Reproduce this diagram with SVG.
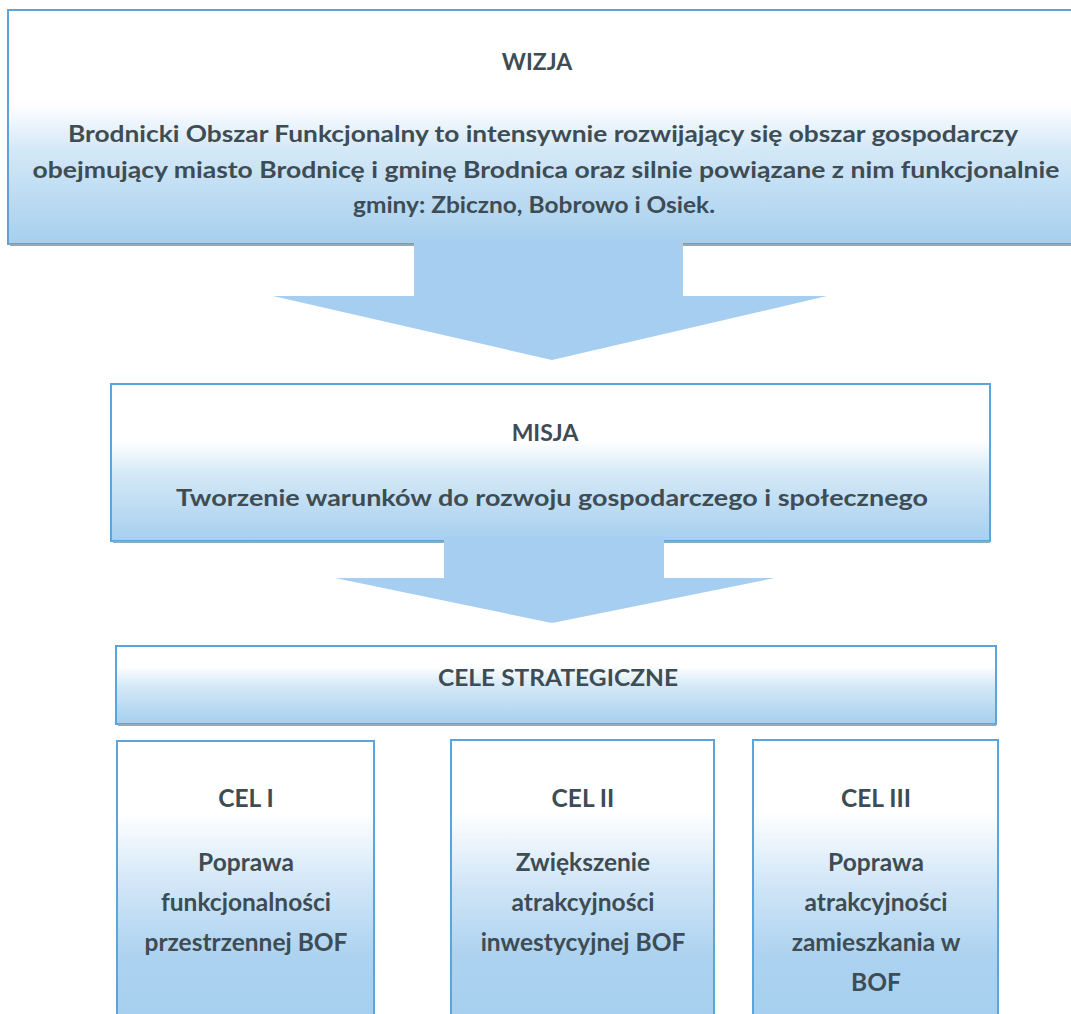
<svg xmlns="http://www.w3.org/2000/svg" width="1071" height="1014" viewBox="0 0 1071 1014">
  <defs>
    <linearGradient id="gWizja" x1="0" y1="0" x2="0" y2="1">
      <stop offset="0" stop-color="#ffffff"/>
      <stop offset="0.4" stop-color="#ffffff"/>
      <stop offset="0.6" stop-color="#d3e8f7"/>
      <stop offset="1" stop-color="#a6cfee"/>
    </linearGradient>
    <linearGradient id="gMisja" x1="0" y1="0" x2="0" y2="1">
      <stop offset="0" stop-color="#ffffff"/>
      <stop offset="0.36" stop-color="#ffffff"/>
      <stop offset="0.58" stop-color="#d3e8f7"/>
      <stop offset="1" stop-color="#a6cfee"/>
    </linearGradient>
    <linearGradient id="gCele" x1="0" y1="0" x2="0" y2="1">
      <stop offset="0" stop-color="#ffffff"/>
      <stop offset="0.26" stop-color="#ffffff"/>
      <stop offset="0.52" stop-color="#d3e8f7"/>
      <stop offset="1" stop-color="#a6cfee"/>
    </linearGradient>
    <linearGradient id="gCel" x1="0" y1="0" x2="0" y2="1">
      <stop offset="0" stop-color="#ffffff"/>
      <stop offset="0.24" stop-color="#ffffff"/>
      <stop offset="0.48" stop-color="#d1e6f7"/>
      <stop offset="0.72" stop-color="#acd2f0"/>
      <stop offset="1" stop-color="#a5ceee"/>
    </linearGradient>
    <style>
      .box { stroke: #5aa6dc; stroke-width: 2; }
      .shadow { fill: none; stroke: #8fa9bd; stroke-width: 2; }
      .arrow { fill: #a5cef0; stroke: none; }
      text { font-family: Lato, "Open Sans", "Liberation Sans", sans-serif; font-weight: bold; fill: #3e4c54; text-anchor: middle; }
      .t { font-size: 23px; }
      .c { font-size: 24.5px; }
    </style>
  </defs>

  <rect width="1071" height="1014" fill="#ffffff"/>

  <g id="wizja">
    <rect class="box" x="8" y="10" width="1075" height="234" fill="url(#gWizja)"/>
    <line class="shadow" x1="10" y1="245" x2="1071" y2="245"/>
    <text class="t" x="537" y="70">WIZJA</text>
    <text class="t" x="543" y="142" textLength="950" lengthAdjust="spacingAndGlyphs">Brodnicki Obszar Funkcjonalny to intensywnie rozwijający się obszar gospodarczy</text>
    <text class="t" x="546" y="178" textLength="1027" lengthAdjust="spacingAndGlyphs">obejmujący miasto Brodnicę i gminę Brodnica oraz silnie powiązane z nim funkcjonalnie</text>
    <text class="t" x="534" y="213" textLength="362" lengthAdjust="spacingAndGlyphs">gminy: Zbiczno, Bobrowo i Osiek.</text>
  </g>

  <g id="misja">
    <rect class="box" x="111" y="384" width="879" height="157" fill="url(#gMisja)"/>
    <line class="shadow" x1="113" y1="542" x2="990" y2="542"/>
    <text class="t" x="545" y="441">MISJA</text>
    <text class="t" x="552" y="506" textLength="752" lengthAdjust="spacingAndGlyphs">Tworzenie warunków do rozwoju gospodarczego i społecznego</text>
  </g>

  <g id="cele-strategiczne">
    <rect class="box" x="116" y="646" width="880" height="78" fill="url(#gCele)"/>
    <line class="shadow" x1="118" y1="725" x2="996" y2="725"/>
    <text class="t" x="558" y="686" textLength="240" lengthAdjust="spacingAndGlyphs">CELE STRATEGICZNE</text>
  </g>

  <g id="cel-1">
    <rect class="box" x="117" y="741" width="257" height="300" fill="url(#gCel)"/>
    <text class="c" x="246" y="807">CEL I</text>
    <text class="c" x="246" y="871">Poprawa</text>
    <text class="c" x="246" y="911">funkcjonalności</text>
    <text class="c" x="246" y="951">przestrzennej BOF</text>
  </g>

  <g id="cel-2">
    <rect class="box" x="451" y="740" width="263" height="300" fill="url(#gCel)"/>
    <text class="c" x="583" y="807">CEL II</text>
    <text class="c" x="583" y="871">Zwiększenie</text>
    <text class="c" x="583" y="911">atrakcyjności</text>
    <text class="c" x="583" y="951">inwestycyjnej BOF</text>
  </g>

  <g id="cel-3">
    <rect class="box" x="753" y="740" width="245" height="300" fill="url(#gCel)"/>
    <text class="c" x="876" y="807">CEL III</text>
    <text class="c" x="876" y="871">Poprawa</text>
    <text class="c" x="876" y="911">atrakcyjności</text>
    <text class="c" x="876" y="951">zamieszkania w</text>
    <text class="c" x="876" y="991">BOF</text>
  </g>

  <g id="connectors">
    <polygon class="arrow" points="414,238 683,238 683,296 827,296 552,360 273,296 414,296"/>
    <polygon class="arrow" points="444,536 664,536 664,578 775,578 552,623 335,578 444,578"/>
  </g>
</svg>
